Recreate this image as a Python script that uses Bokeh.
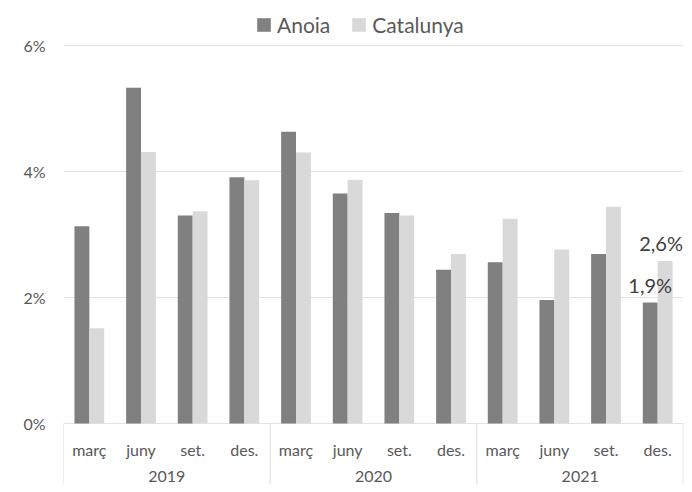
from bokeh.plotting import figure
from bokeh.models import (ColumnDataSource, FactorRange, FixedTicker, Legend,
                          LegendItem, Range1d)
from bokeh.transform import dodge
from bokeh.core.properties import value
from bokeh.embed import file_html
from bokeh.resources import INLINE

# ---- data ----
years = ["2019", "2020", "2021"]
months = ["març", "juny", "set.", "des."]
anoia = [3.13, 5.33, 3.30, 3.91, 4.63, 3.65, 3.34, 2.44, 2.56, 1.96, 2.69, 1.92]
catalunya = [1.51, 4.31, 3.37, 3.86, 4.30, 3.87, 3.30, 2.69, 3.25, 2.76, 3.44, 2.58]
y_ticks = [0, 2, 4, 6]
y_tick_labels = ["0%", "2%", "4%", "6%"]
series_names = ["Anoia", "Catalunya"]

# ---- styles ----
FONT = "Lato"
C_ANOIA = "#808080"
C_CAT = "#d9d9d9"
TXT = "#595959"
GRID = "#e3e3e3"
SEP = "#d9d9d9"
BAR_W = 0.288

factors = [(y, m) for y in years for m in months]

p = figure(
    x_range=FactorRange(*factors, factor_padding=0, group_padding=0,
                        range_padding=0),
    y_range=Range1d(-61 / 63, 423 / 63),
    width=684, height=484,
    output_backend="svg", toolbar_location=None,
    x_axis_location=None,
    min_border_left=63, min_border_right=1,
    min_border_top=0, min_border_bottom=0,
)
p.outline_line_color = None
p.xgrid.visible = False
p.ygrid.ticker = FixedTicker(ticks=y_ticks)
p.ygrid.grid_line_color = GRID
p.ygrid.grid_line_width = 1

ax = p.yaxis[0]
ax.ticker = FixedTicker(ticks=y_ticks)
ax.major_label_overrides = {t: l for t, l in zip(y_ticks, y_tick_labels)}
ax.axis_line_color = None
ax.major_tick_line_color = None
ax.minor_tick_line_color = None
ax.major_tick_out = 0
ax.major_label_standoff = 18
ax.major_label_text_font = FONT
ax.major_label_text_font_size = "16px"
ax.major_label_text_color = TXT

src = ColumnDataSource(dict(
    x=factors,
    anoia=anoia,
    catalunya=catalunya,
    month=[m for _ in years for m in months],
))

r1 = p.vbar(x=dodge("x", -BAR_W / 2, range=p.x_range), top="anoia",
            width=BAR_W, source=src, fill_color=C_ANOIA, line_color=None)
r2 = p.vbar(x=dodge("x", BAR_W / 2, range=p.x_range), top="catalunya",
            width=BAR_W, source=src, fill_color=C_CAT, line_color=None)

# category labels (month level)
p.text(x="x", y=0, text="month", source=src, y_offset=26,
       text_align="center", text_baseline="middle",
       text_font=value(FONT), text_font_size="16px", text_color=TXT)

# year labels, centred between 2nd and 3rd month of each year
ysrc = ColumnDataSource(dict(x=[(y, months[1]) for y in years], text=years))
p.text(x=dodge("x", 0.5, range=p.x_range), y=0, text="text", source=ysrc,
       y_offset=53, text_align="center", text_baseline="middle",
       text_font=value(FONT), text_font_size="16px", text_color=TXT)

# group separators
lsrc = ColumnDataSource(dict(x=[(y, months[0]) for y in years]))
p.segment(x0=dodge("x", -0.5, range=p.x_range), y0=0,
          x1=dodge("x", -0.5, range=p.x_range), y1=-2, source=lsrc,
          line_color=SEP, line_width=1)
rsrc = ColumnDataSource(dict(x=[(years[-1], months[-1])]))
p.segment(x0=dodge("x", 0.495, range=p.x_range), y0=0,
          x1=dodge("x", 0.495, range=p.x_range), y1=-2, source=rsrc,
          line_color=SEP, line_width=1)

# data labels for the last period
def fmt(v):
    return f"{v:.1f}".replace(".", ",") + "%"

last = factors[-1]
for vals, off, xo in ((anoia, -BAR_W / 2, 0), (catalunya, BAR_W / 2, -4)):
    dsrc = ColumnDataSource(dict(x=[last], top=[vals[-1]], text=[fmt(vals[-1])]))
    p.text(x=dodge("x", off, range=p.x_range), y="top", text="text",
           source=dsrc, y_offset=-18, x_offset=xo, text_align="center",
           text_baseline="alphabetic", text_font=value(FONT),
           text_font_size="20px", text_color="#404040")

legend = Legend(
    items=[LegendItem(label=series_names[0], renderers=[r1]),
           LegendItem(label=series_names[1], renderers=[r2])],
    orientation="horizontal", location=(192, 447),
    padding=0, margin=0, spacing=20, label_standoff=5,
    glyph_width=17, glyph_height=17,
    label_text_font=FONT, label_text_font_size="21px",
    label_text_color=TXT,
    border_line_color=None, background_fill_alpha=0,
)
p.add_layout(legend)

open("out.html", "w").write(file_html(p, INLINE))
